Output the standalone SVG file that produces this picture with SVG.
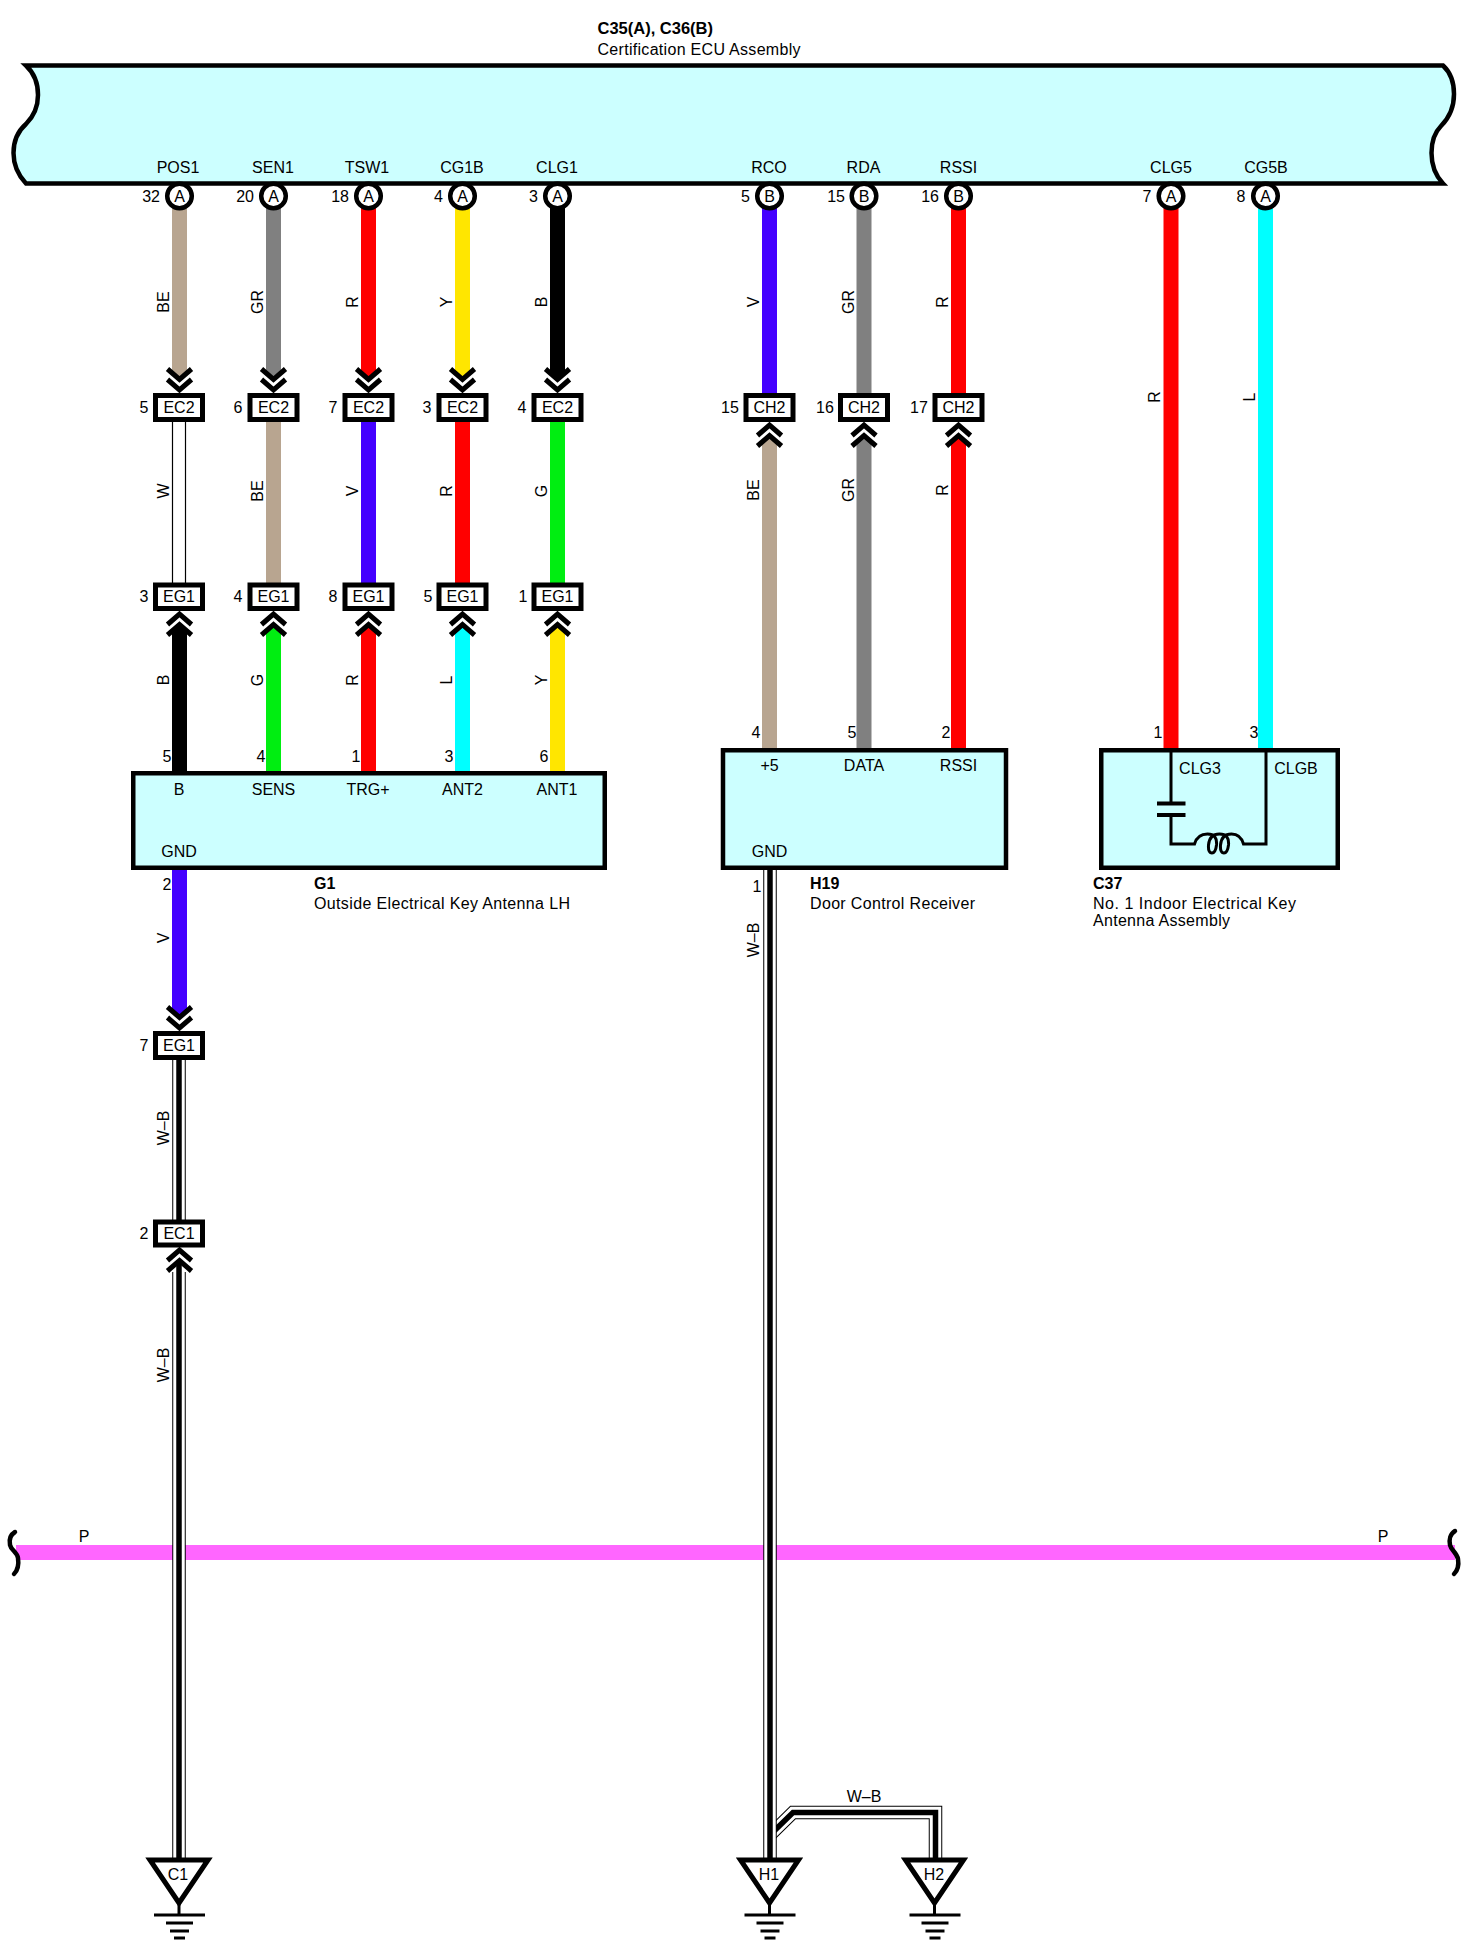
<svg xmlns="http://www.w3.org/2000/svg" xmlns:xlink="http://www.w3.org/1999/xlink" width="1473" height="1953" viewBox="0 0 1473 1953">
<style>
text{font-family:"Liberation Sans",Arial,sans-serif;font-size:16px;fill:#000}
.m{text-anchor:middle}.e{text-anchor:end}.b{font-weight:bold}
.box{fill:#ccffff;stroke:#000;stroke-width:4.5}
.frame{fill:#fff;stroke:#000;stroke-width:5}
.pin{fill:#fff;stroke:#000;stroke-width:4.5}
.chev{fill:none;stroke:#000;stroke-width:5}
.BE{fill:#b8a590}.GR{fill:#808080}.R{fill:#ff0000}.Y{fill:#ffe600}.K{fill:#000}.V{fill:#4400ff}.G{fill:#00ee11}.L{fill:#00ffff}.P{fill:#ff66ff}
.wo{fill:none;stroke:#000;stroke-width:13.5}.wi{fill:none;stroke:#fff;stroke-width:11.5}.wc{fill:none;stroke:#000;stroke-width:5.5}
.sq{fill:none;stroke:#000;stroke-width:4.5;stroke-linecap:round}
.in{fill:none;stroke:#000;stroke-width:3}
.gt{fill:#fff;stroke:#000;stroke-width:5;stroke-linejoin:miter}
.gl{stroke:#000;stroke-width:3;fill:none}
</style>
<defs>
<g id="dn"><polyline class="chev" points="-12,-24 0,-13.5 12,-24"/><polyline class="chev" points="-12,-13.5 0,-3 12,-13.5"/></g>
<g id="up"><polyline class="chev" points="-12,13.5 0,3 12,13.5"/><polyline class="chev" points="-12,24 0,13.5 12,24"/></g>
<g id="gnd">
<path class="gl" d="M0 40V56"/><path class="gl" d="M-25 56H26"/><path class="gl" d="M-13 64H14"/><path class="gl" d="M-9 72H10"/><path class="gl" d="M-5 79H6"/>
<path class="gt" d="M-29 1H29L0 44Z"/>
</g>
</defs>

<g id="connectors">
<!-- bus P -->
<rect class="P" x="16" y="1545" width="1439" height="15"/>
<path class="sq" d="M15 1532C10 1535 9 1540 10 1545C11 1550 17 1552 18 1558C19 1565 18 1570 14 1574"/>
<path class="sq" d="M1455 1531C1450 1534 1449 1540 1450 1545C1451 1550 1457 1553 1458 1559C1459 1565 1458 1570 1454 1574"/>
<text class="m" x="84" y="1542">P</text>
<text class="m" x="1383" y="1542">P</text>

<!-- row 1: ECU to EC2 -->
<path class="BE" d="M172 196H187V371L179.5 379L172 371Z"/>
<path class="GR" d="M266 196H281V371L273.5 379L266 371Z"/>
<path class="R" d="M361 196H376V371L368.5 379L361 371Z"/>
<path class="Y" d="M455 196H470V371L462.5 379L455 371Z"/>
<path class="K" d="M550 196H565V371L557.5 379L550 371Z"/>
<!-- row 2: EC2 to EG1 -->
<rect x="172.5" y="420" width="13" height="165" fill="#fff" stroke="#000" stroke-width="1.2"/>
<rect class="BE" x="266" y="420" width="15" height="165"/>
<rect class="V" x="361" y="420" width="15" height="165"/>
<rect class="R" x="455" y="420" width="15" height="165"/>
<rect class="G" x="550" y="420" width="15" height="165"/>
<!-- row 3: EG1 to G1 -->
<path class="K" d="M172 771V633L179.5 625L187 633V771Z"/>
<path class="G" d="M266 771V633L273.5 625L281 633V771Z"/>
<path class="R" d="M361 771V633L368.5 625L376 633V771Z"/>
<path class="L" d="M455 771V633L462.5 625L470 633V771Z"/>
<path class="Y" d="M550 771V633L557.5 625L565 633V771Z"/>
<!-- G1 to EG1 pin 7 -->
<path class="V" d="M172 868H187V1009L179.5 1017L172 1009Z"/>
<!-- ECU to CH2 -->
<rect class="V" x="762" y="196" width="15" height="198"/>
<rect class="GR" x="856.5" y="196" width="15" height="198"/>
<rect class="R" x="951" y="196" width="15" height="198"/>
<!-- CH2 to H19 -->
<path class="BE" d="M762 750V444L769.5 436L777 444V750Z"/>
<path class="GR" d="M856.5 750V444L864 436L871.5 444V750Z"/>
<path class="R" d="M951 750V444L958.5 436L966 444V750Z"/>
<!-- ECU to C37 -->
<rect class="R" x="1163.5" y="196" width="15" height="554"/>
<rect class="L" x="1258" y="196" width="15" height="554"/>

<!-- W-B wires -->
<path class="wo" d="M179 1058V1222"/><path class="wi" d="M179 1058V1222"/><path class="wc" d="M179 1058V1222"/>
<path class="wo" d="M179 1272V1859"/><path class="wi" d="M179 1272V1859"/><path class="wc" d="M179 1262V1859"/>
<path class="wo" d="M770 1835L793 1812.5H935.5V1858"/><path class="wi" d="M770 1835L793 1812.5H935.5V1858"/><path class="wc" d="M770 1835L793 1812.5H935.5V1858"/>
<path class="wo" d="M770 868V1859"/><path class="wi" d="M770 868V1859"/><path class="wc" d="M770 868V1859"/>

<!-- chevrons -->
<use href="#dn" x="179.5" y="393"/><use href="#dn" x="273.5" y="393"/><use href="#dn" x="368.5" y="393"/><use href="#dn" x="462.5" y="393"/><use href="#dn" x="557.5" y="393"/>
<use href="#up" x="179.5" y="611"/><use href="#up" x="273.5" y="611"/><use href="#up" x="368.5" y="611"/><use href="#up" x="462.5" y="611"/><use href="#up" x="557.5" y="611"/>
<use href="#dn" x="179.5" y="1031"/>
<use href="#up" x="179.5" y="1247"/>
<use href="#up" x="769.5" y="422"/><use href="#up" x="864" y="422"/><use href="#up" x="958.5" y="422"/>

<!-- wire labels -->
<text class="m" transform="translate(169,302) rotate(-90)">BE</text>
<text class="m" transform="translate(263,302) rotate(-90)">GR</text>
<text class="m" transform="translate(358,302) rotate(-90)">R</text>
<text class="m" transform="translate(452,302) rotate(-90)">Y</text>
<text class="m" transform="translate(547,302) rotate(-90)">B</text>
<text class="m" transform="translate(169,491) rotate(-90)">W</text>
<text class="m" transform="translate(263,491) rotate(-90)">BE</text>
<text class="m" transform="translate(358,491) rotate(-90)">V</text>
<text class="m" transform="translate(452,491) rotate(-90)">R</text>
<text class="m" transform="translate(547,491) rotate(-90)">G</text>
<text class="m" transform="translate(169,680) rotate(-90)">B</text>
<text class="m" transform="translate(263,680) rotate(-90)">G</text>
<text class="m" transform="translate(358,680) rotate(-90)">R</text>
<text class="m" transform="translate(452,680) rotate(-90)">L</text>
<text class="m" transform="translate(547,680) rotate(-90)">Y</text>
<text class="m" transform="translate(169,938) rotate(-90)">V</text>
<text class="m" transform="translate(169,1128) rotate(-90)">W–B</text>
<text class="m" transform="translate(169,1365) rotate(-90)">W–B</text>
<text class="m" transform="translate(759,302) rotate(-90)">V</text>
<text class="m" transform="translate(854,302) rotate(-90)">GR</text>
<text class="m" transform="translate(948,302) rotate(-90)">R</text>
<text class="m" transform="translate(759,490) rotate(-90)">BE</text>
<text class="m" transform="translate(854,490) rotate(-90)">GR</text>
<text class="m" transform="translate(948,490) rotate(-90)">R</text>
<text class="m" transform="translate(1160,397) rotate(-90)">R</text>
<text class="m" transform="translate(1255,397) rotate(-90)">L</text>
<text class="m" transform="translate(759,940) rotate(-90)">W–B</text>
<text class="m" x="864" y="1802">W–B</text>
</g>

<g id="ecu">
<path class="box" d="M26 65.5C34 73 38 84 38 95C38 108 32 118 26 124C18 131 13.5 142 13.5 153C13.5 165 18 175 26 183.5H1443C1435 175 1431.5 164 1431.5 153C1431.5 140 1435 132 1441 126C1449 118 1454 108 1454 94C1454 82 1450 72 1443 65.5Z"/>
<text class="b" x="597.5" y="34" style="font-size:16.5px">C35(A), C36(B)</text>
<text x="597.5" y="55" textLength="203">Certification ECU Assembly</text>
<text class="m" x="178" y="172.5">POS1</text><text class="m" x="273" y="172.5">SEN1</text><text class="m" x="367" y="172.5">TSW1</text><text class="m" x="462" y="172.5">CG1B</text><text class="m" x="557" y="172.5">CLG1</text>
<text class="m" x="769" y="172.5">RCO</text><text class="m" x="863.5" y="172.5">RDA</text><text class="m" x="958.5" y="172.5">RSSI</text><text class="m" x="1171" y="172.5">CLG5</text><text class="m" x="1266" y="172.5">CG5B</text>
<circle class="pin" cx="179.5" cy="196" r="12.3"/><circle class="pin" cx="273.5" cy="196" r="12.3"/><circle class="pin" cx="368.5" cy="196" r="12.3"/><circle class="pin" cx="462.5" cy="196" r="12.3"/><circle class="pin" cx="557.5" cy="196" r="12.3"/>
<circle class="pin" cx="769.5" cy="196" r="12.3"/><circle class="pin" cx="864" cy="196" r="12.3"/><circle class="pin" cx="958.5" cy="196" r="12.3"/><circle class="pin" cx="1171" cy="196" r="12.3"/><circle class="pin" cx="1265.5" cy="196" r="12.3"/>
<text class="m" x="179.5" y="201.7">A</text><text class="m" x="273.5" y="201.7">A</text><text class="m" x="368.5" y="201.7">A</text><text class="m" x="462.5" y="201.7">A</text><text class="m" x="557.5" y="201.7">A</text>
<text class="m" x="769.5" y="201.7">B</text><text class="m" x="864" y="201.7">B</text><text class="m" x="958.5" y="201.7">B</text><text class="m" x="1171" y="201.7">A</text><text class="m" x="1265.5" y="201.7">A</text>
<text class="e" x="160" y="202">32</text><text class="e" x="254" y="202">20</text><text class="e" x="349" y="202">18</text><text class="e" x="443" y="202">4</text><text class="e" x="538" y="202">3</text>
<text class="e" x="750" y="202">5</text><text class="e" x="845" y="202">15</text><text class="e" x="939" y="202">16</text><text class="e" x="1151.5" y="202">7</text><text class="e" x="1245.5" y="202">8</text>
</g>

<g id="ec2-5"><rect class="frame" x="155.5" y="395.5" width="47" height="24"/><text class="m" x="179" y="413">EC2</text><text class="m" x="144" y="413">5</text></g>
<g id="ec2-6"><rect class="frame" x="250" y="395.5" width="47" height="24"/><text class="m" x="273.5" y="413">EC2</text><text class="m" x="238" y="413">6</text></g>
<g id="ec2-7"><rect class="frame" x="345" y="395.5" width="47" height="24"/><text class="m" x="368.5" y="413">EC2</text><text class="m" x="333" y="413">7</text></g>
<g id="ec2-3"><rect class="frame" x="439" y="395.5" width="47" height="24"/><text class="m" x="462.5" y="413">EC2</text><text class="m" x="427" y="413">3</text></g>
<g id="ec2-4"><rect class="frame" x="534" y="395.5" width="47" height="24"/><text class="m" x="557.5" y="413">EC2</text><text class="m" x="522" y="413">4</text></g>

<g id="eg1-3"><rect class="frame" x="155.5" y="585" width="47" height="23.5"/><text class="m" x="179" y="601.5">EG1</text><text class="m" x="144" y="601.5">3</text></g>
<g id="eg1-4"><rect class="frame" x="250" y="585" width="47" height="23.5"/><text class="m" x="273.5" y="601.5">EG1</text><text class="m" x="238" y="601.5">4</text></g>
<g id="eg1-8"><rect class="frame" x="345" y="585" width="47" height="23.5"/><text class="m" x="368.5" y="601.5">EG1</text><text class="m" x="333" y="601.5">8</text></g>
<g id="eg1-5"><rect class="frame" x="439" y="585" width="47" height="23.5"/><text class="m" x="462.5" y="601.5">EG1</text><text class="m" x="428" y="601.5">5</text></g>
<g id="eg1-1"><rect class="frame" x="534" y="585" width="47" height="23.5"/><text class="m" x="557.5" y="601.5">EG1</text><text class="m" x="523" y="601.5">1</text></g>

<g id="ch2-15"><rect class="frame" x="746" y="395.5" width="47" height="24"/><text class="m" x="769.5" y="413">CH2</text><text class="m" x="730" y="413">15</text></g>
<g id="ch2-16"><rect class="frame" x="840.5" y="395.5" width="47" height="24"/><text class="m" x="864" y="413">CH2</text><text class="m" x="825" y="413">16</text></g>
<g id="ch2-17"><rect class="frame" x="935" y="395.5" width="47" height="24"/><text class="m" x="958.5" y="413">CH2</text><text class="m" x="919" y="413">17</text></g>

<g id="eg1-7"><rect class="frame" x="155.5" y="1033.5" width="47" height="24"/><text class="m" x="179" y="1051">EG1</text><text class="m" x="144" y="1051">7</text></g>
<g id="ec1-2"><rect class="frame" x="155.5" y="1222" width="47" height="23"/><text class="m" x="179" y="1239">EC1</text><text class="m" x="144" y="1239">2</text></g>

<g id="g1">
<rect class="box" x="133.25" y="773.25" width="471.5" height="94.5"/>
<text class="m" x="179" y="795">B</text><text class="m" x="273.5" y="795">SENS</text><text class="m" x="368" y="795">TRG+</text><text class="m" x="462.5" y="795">ANT2</text><text class="m" x="557" y="795">ANT1</text>
<text class="m" x="179" y="857">GND</text>
<text class="m" x="167" y="762">5</text><text class="m" x="261" y="762">4</text><text class="m" x="356" y="762">1</text><text class="m" x="449" y="762">3</text><text class="m" x="544" y="762">6</text>
<text class="m" x="167" y="890">2</text>
<text class="b" x="314" y="889">G1</text>
<text x="314" y="909" textLength="256">Outside Electrical Key Antenna LH</text>
</g>

<g id="h19">
<rect class="box" x="723" y="750.25" width="283" height="117.5"/>
<text class="m" x="769.5" y="771">+5</text><text class="m" x="864" y="771">DATA</text><text class="m" x="958.5" y="771">RSSI</text>
<text class="m" x="769.5" y="857">GND</text>
<text class="m" x="756" y="738">4</text><text class="m" x="852" y="738">5</text><text class="m" x="946" y="738">2</text>
<text class="m" x="757" y="892">1</text>
<text class="b" x="810" y="889">H19</text>
<text x="810" y="909" textLength="165">Door Control Receiver</text>
</g>

<g id="c37">
<rect class="box" x="1101.25" y="750.25" width="236.5" height="117.5"/>
<path class="in" d="M1171 752V803M1171 815V844H1194.5Q1197.5 834 1207.5 834Q1217.5 834 1216.5 845Q1215.5 853 1212 853Q1208 853 1208.5 845Q1209.5 834 1219.5 834Q1229.5 834 1228.5 845Q1227.5 853 1224 853Q1220 853 1220.5 845Q1221.5 834 1231.5 834Q1240.5 834 1243.5 844H1266V752"/>
<path d="M1157 803.5H1185.5M1157 815H1185.5" fill="none" stroke="#000" stroke-width="4"/>
<text class="m" x="1200" y="774">CLG3</text><text class="m" x="1296" y="774">CLGB</text>
<text class="m" x="1158" y="738">1</text><text class="m" x="1254" y="738">3</text>
<text class="b" x="1093" y="889">C37</text>
<text x="1093" y="909" textLength="203">No. 1 Indoor Electrical Key</text>
<text x="1093" y="926" textLength="137">Antenna Assembly</text>
</g>

<g id="gnd-c1"><use href="#gnd" x="179" y="1859"/><text class="m" x="178" y="1880">C1</text></g>
<g id="gnd-h1"><use href="#gnd" x="769.5" y="1859"/><text class="m" x="769" y="1880">H1</text></g>
<g id="gnd-h2"><use href="#gnd" x="934.5" y="1859"/><text class="m" x="934" y="1880">H2</text></g>
</svg>
